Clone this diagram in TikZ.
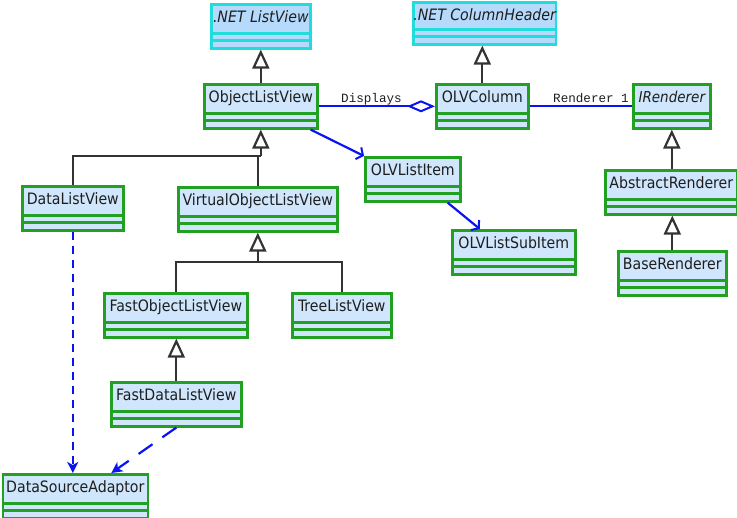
\documentclass[tikz,border=0pt]{standalone}
\usepackage{fontspec}
\setmainfont{DejaVu Sans Condensed}
\newfontfamily\monof{Liberation Mono}
\usetikzlibrary{arrows.meta}
\definecolor{boxgreen}{HTML}{22A022}
\definecolor{boxfill}{HTML}{CFE6FC}
\definecolor{netcyan}{HTML}{22DCDC}
\definecolor{netfill}{HTML}{B6DAFC}
\definecolor{inhgray}{HTML}{333333}
\definecolor{assocblue}{HTML}{0A14F0}
\definecolor{txt}{HTML}{1E1E1E}
\begin{document}
\begin{tikzpicture}[x=1pt,y=-1pt,
  cls/.style={draw=#1, fill=boxfill, line width=2.6pt, anchor=north west,
    inner xsep=0pt, inner ysep=0pt, minimum height=44pt,
    text height=18.7pt, text depth=25.3pt, text=txt,
    font=\fontsize{15.7}{18}\selectfont,
    path picture={\draw[#1, line width=2.6pt]
      ([yshift=15pt]path picture bounding box.south west) -- ([yshift=15pt]path picture bounding box.south east)
      ([yshift=7.5pt]path picture bounding box.south west) -- ([yshift=7.5pt]path picture bounding box.south east);}},
  cls/.default=boxgreen,
  netcls/.style={cls=netcyan, fill=netfill, font=\fontsize{15.7}{18}\selectfont\itshape},
  lbl/.style={font=\monof\fontsize{12.6}{15}\selectfont, text=txt, inner sep=0pt, anchor=base west},
  inhline/.style={draw=inhgray, line width=2.2pt},
  inh/.style={inhline, -{Triangle[open, length=19pt, width=17pt, line width=2.2pt]}},
  assoc/.style={draw=assocblue, line width=2.2pt},
  nav/.style={assoc, -{Straight Barb[length=5pt, width=13pt, line width=2pt]}},
  dep/.style={draw=assocblue, line width=2.2pt, dash pattern=on 8pt off 6pt,
    -{Stealth[length=11pt, width=11pt, inset=3pt]}},
  deplong/.style={dep, dash pattern=on 17pt off 12pt}
]
\useasboundingbox (0,0) rectangle (737,518);

% classes
\node[netcls, minimum width=99pt] (lv) at (210,3) {.NET ListView};
\node[netcls, minimum width=128pt, minimum height=42pt, text depth=23.3pt] (ch) at (412,1) {.NET ColumnHeader};
\node[cls, minimum width=113pt] (olv) at (203,83) {ObjectListView};
\node[cls, minimum width=92pt] (olvc) at (435,83) {OLVColumn};
\node[cls, minimum width=77pt, font=\fontsize{15}{18}\selectfont\itshape] (ir) at (632,83) {IRenderer};
\node[cls, minimum width=95pt] (oli) at (364,156) {OLVListItem};
\node[cls, minimum width=123pt] (olsi) at (451,229) {OLVListSubItem};
\node[cls, minimum width=132pt] (ar) at (604,169) {AbstractRenderer};
\node[cls, minimum width=108pt] (br) at (617,250) {BaseRenderer};
\node[cls, minimum width=101pt] (dlv) at (21,185) {DataListView};
\node[cls, minimum width=159pt] (volv) at (177,186) {VirtualObjectListView};
\node[cls, minimum width=143pt] (folv) at (103,292) {FastObjectListView};
\node[cls, minimum width=99pt] (tlv) at (291,292) {TreeListView};
\node[cls, minimum width=130pt] (fdlv) at (110,381) {FastDataListView};
\node[cls, minimum width=145pt] (dsa) at (1.5,473) {DataSourceAdaptor};

% labels
\node[lbl] (lblD) at (341,103) {Displays};
\node[lbl] (lblR) at (553,103) {Renderer 1};

% inheritance
\draw[inh] (olv.north) -- (lv.south);
\draw[inh] (olvc.north) -- (olvc.north |- ch.south);
\coordinate (j1) at (olv.south |- 0,156);
\draw[inhline] (dlv.north) |- (j1);
\draw[inhline] (volv.north) |- (j1);
\draw[inh] (j1) -- (olv.south);
\coordinate (j2) at (volv.south |- 0,262);
\draw[inhline] (folv.north) |- (j2) -| (tlv.north);
\draw[inh] (j2) -- (volv.south);
\draw[inh] (fdlv.north) -- (fdlv.north |- folv.south);
\draw[inh] (ir.south |- ar.north) -- (ir.south);
\draw[inh] (br.north) -- (br.north |- ar.south);

% associations
\draw[assoc, -{Diamond[open, length=28pt, width=12pt, line width=2pt]}] (olv.east) -- (olvc.west);
\draw[assoc] (olvc.east) -- (ir.west);
\draw[nav] ([xshift=-8pt]olv.south east) -- (oli.north west);
\draw[nav] ([xshift=-14pt]oli.south east) -- ([xshift=-34pt]olsi.north);

% dependencies
\draw[dep] (dlv.south) -- (dlv.south |- dsa.north);
\draw[deplong] (fdlv.south) -- ([xshift=36pt]dsa.north);
\end{tikzpicture}
\end{document}
